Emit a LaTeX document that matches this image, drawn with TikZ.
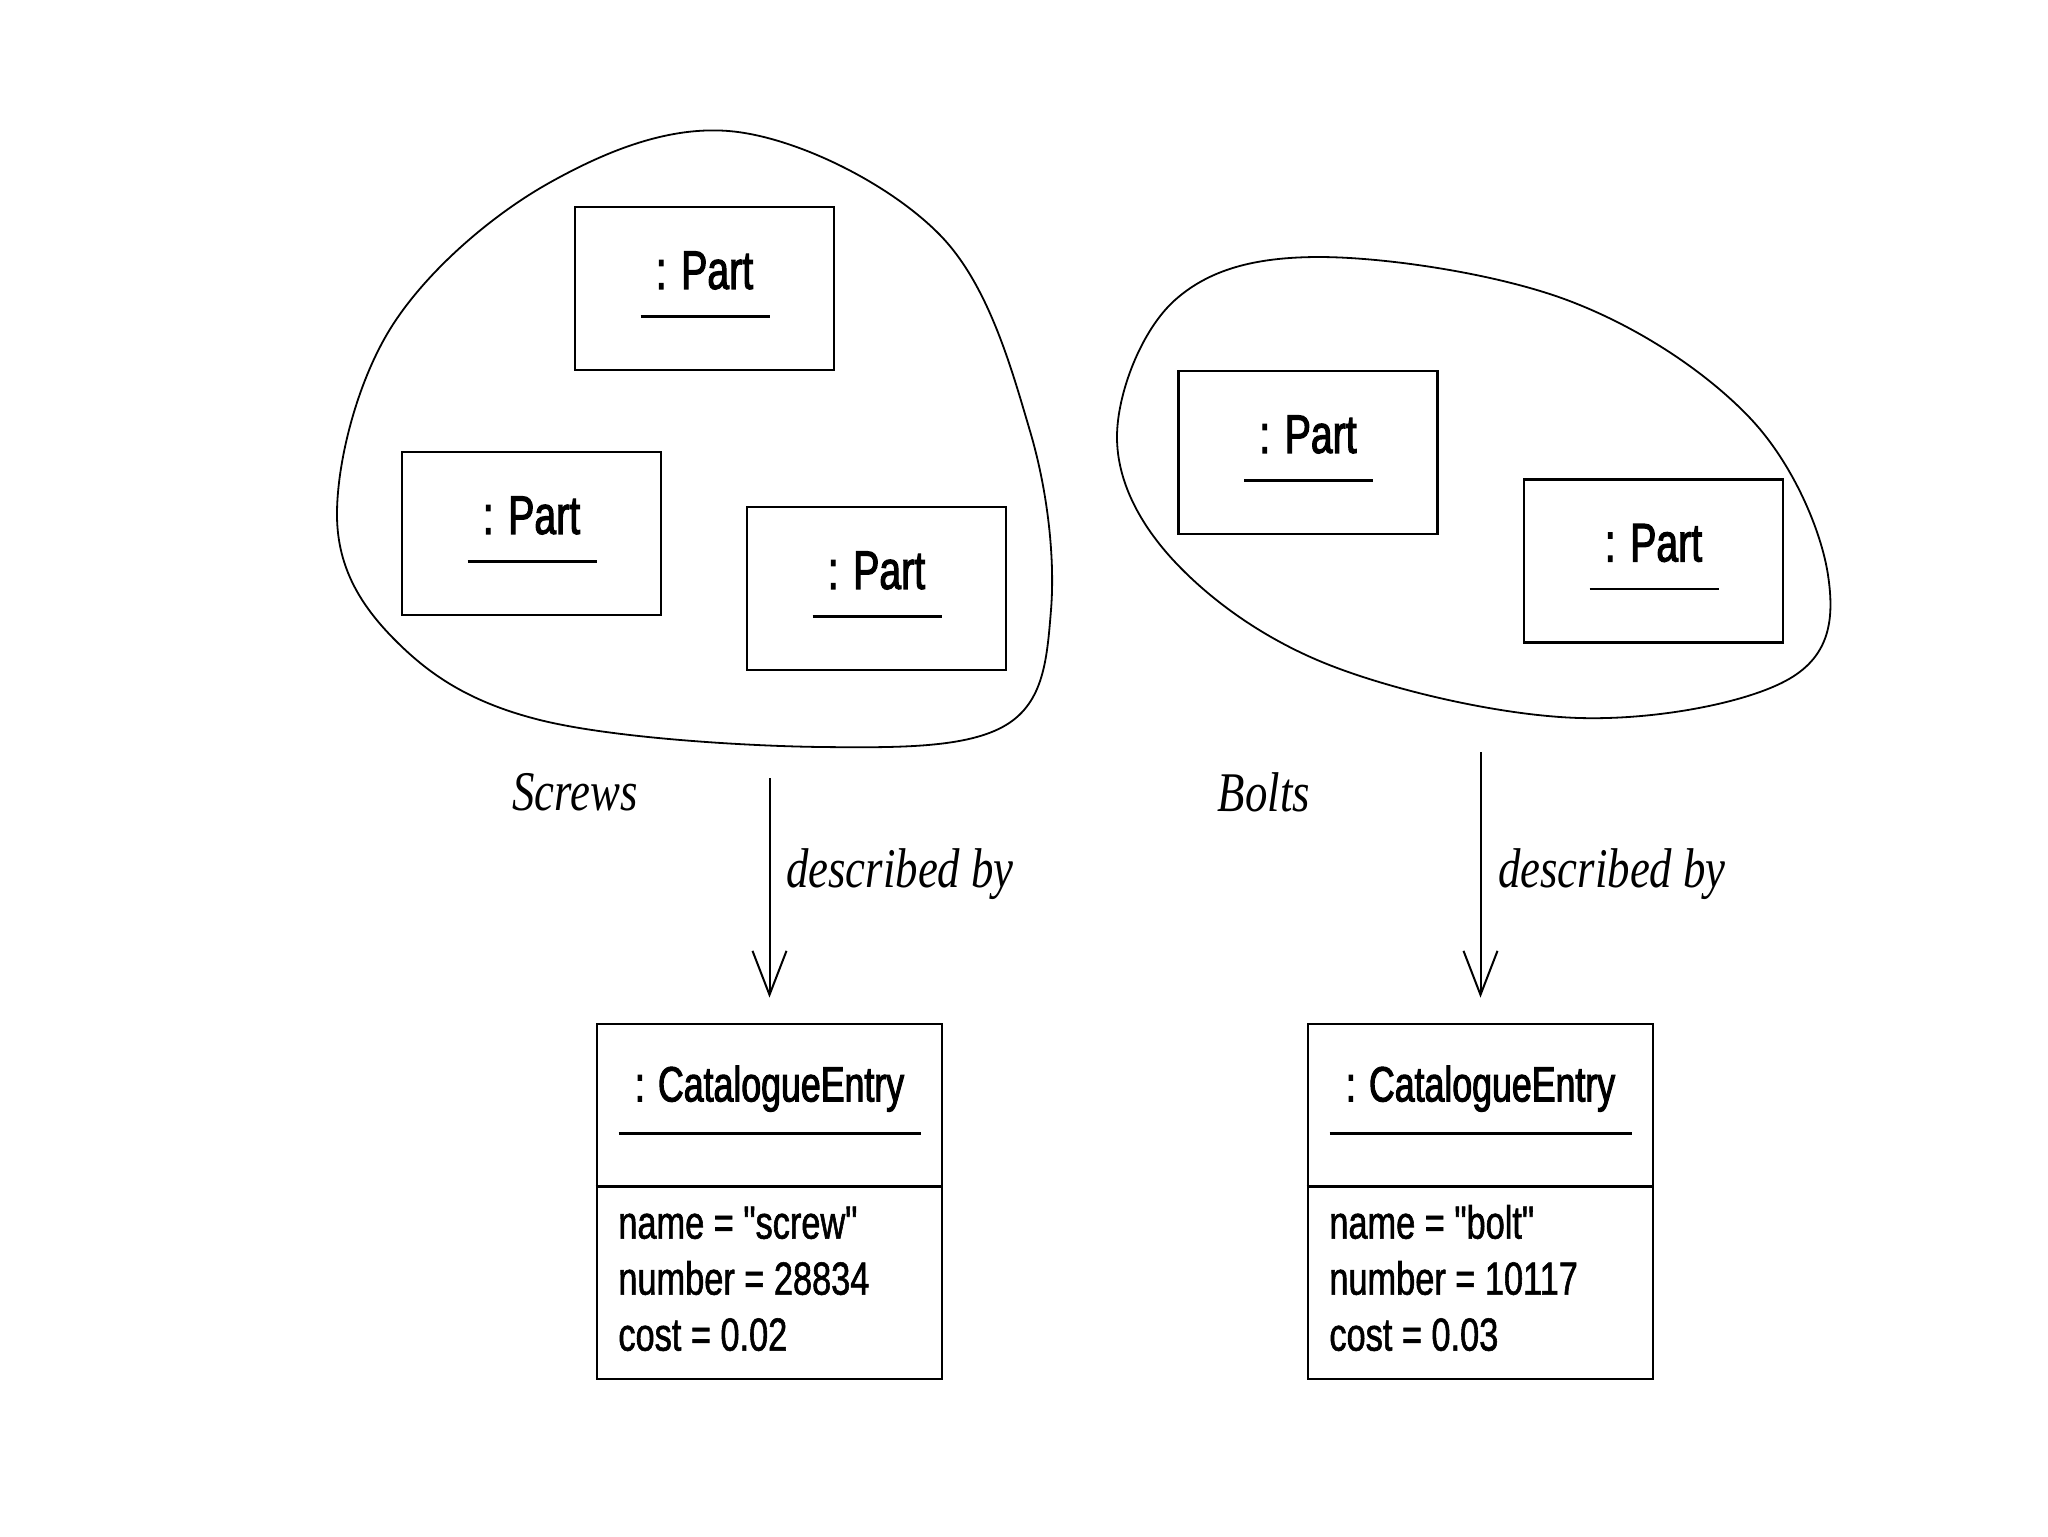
\documentclass[tikz,border=0pt]{standalone}
\usepackage{fontspec}
\setmainfont{Liberation Sans}[FakeStretch=0.74, FakeBold=1.2, Ligatures=TeXOff]
\newfontfamily\titlefont{Liberation Sans}[FakeStretch=0.72, FakeBold=2]
\newfontfamily\lblfont{Liberation Serif}[FakeStretch=0.8]
\usetikzlibrary{arrows.meta}
\begin{document}
\begin{tikzpicture}[x=0.25pt,y=-0.25pt,
  partbox/.style={draw, line width=0.7pt, minimum width=64.75pt, minimum height=40.75pt, inner sep=0pt},
  parttext/.style={inner sep=0pt, font=\titlefont\fontsize{13.6}{16}\selectfont},
  catbox/.style={draw, line width=0.7pt, minimum width=86.25pt, minimum height=88.75pt, inner sep=0pt},
  cattitle/.style={inner sep=0pt, font=\titlefont\fontsize{12.4}{14}\selectfont},
  attr/.style={inner sep=0pt, anchor=base west, font=\fontsize{11.6}{13.75}\selectfont},
  uline/.style={line width=0.6pt},
  divline/.style={line width=0.7pt},
  blob/.style={draw, line width=0.45pt},
  lbl/.style={inner sep=0pt, font=\lblfont\itshape\fontsize{14}{16}\selectfont},
  assoc/.style={line width=0.5pt, -{Straight Barb[length=11pt,width=8.5pt,line width=0.5pt]}}
]
\useasboundingbox (0,0) rectangle (2048,1536);

% blobs
\draw[blob] plot[smooth cycle, tension=0.6] coordinates {
  (738,132) (940,235) (1030,431) (1051,610) (1006,725) (823,747)
  (540,720) (395,640) (337,516) (392,326) (549,183)};
\draw[blob] plot[smooth cycle, tension=0.6] coordinates {
  (1319,257) (1567,300) (1750,418) (1828,575) (1789,679) (1580,718)
  (1332,666) (1175,562) (1117,437) (1175,300)};

% part boxes
\foreach \n/\x/\y in {p1/704.5/288.5, p2/531.5/533.5, p3/876.5/588.5, p4/1308/452.5, p5/1653.5/561}{
  \node[partbox] (\n) at (\x,\y) {};
  \node[parttext] (\n t) at ([shift={(0,-18)}]\n.center) {: Part};
  \draw[uline] ([shift={(-64,28)}]\n.center) -- ([shift={(65,28)}]\n.center);
}

% catalogue entries
\node[catbox] (c1) at (769.5,1201.5) {};
\node[catbox] (c2) at (1480.5,1201.5) {};
\foreach \c/\na/\nu/\co in {c1/screw/28834/0.02, c2/bolt/10117/0.03}{
  \node[cattitle] (\c t) at ([shift={(0,66)}]\c.north) {: CatalogueEntry};
  \draw[uline] ([shift={(-151,111)}]\c.north) -- ([shift={(151,111)}]\c.north);
  \draw[divline] ([shift={(0,164)}]\c.north west) -- ([shift={(0,164)}]\c.north east);
  \node[attr] (\c n) at ([shift={(22,216)}]\c.north west) {name = \symbol{34}\na\symbol{34}};
  \node[attr] (\c u) at ([shift={(22,272)}]\c.north west) {number = \nu};
  \node[attr] (\c c) at ([shift={(22,328)}]\c.north west) {cost = \co};
}

% labels
\node[lbl] (screws) at (575,792) {Screws};
\node[lbl] (bolts) at (1264,792) {Bolts};
\node[lbl] (d1) at (900,874) {described by};
\node[lbl] (d2) at (1612,874) {described by};

% associations
\coordinate (s1) at (769.5,778);
\coordinate (s2) at (1480.5,752);
\draw[assoc] (s1) -- ([shift={(0,-25)}]c1.north);
\draw[assoc] (s2) -- ([shift={(0,-25)}]c2.north);
\end{tikzpicture}
\end{document}
